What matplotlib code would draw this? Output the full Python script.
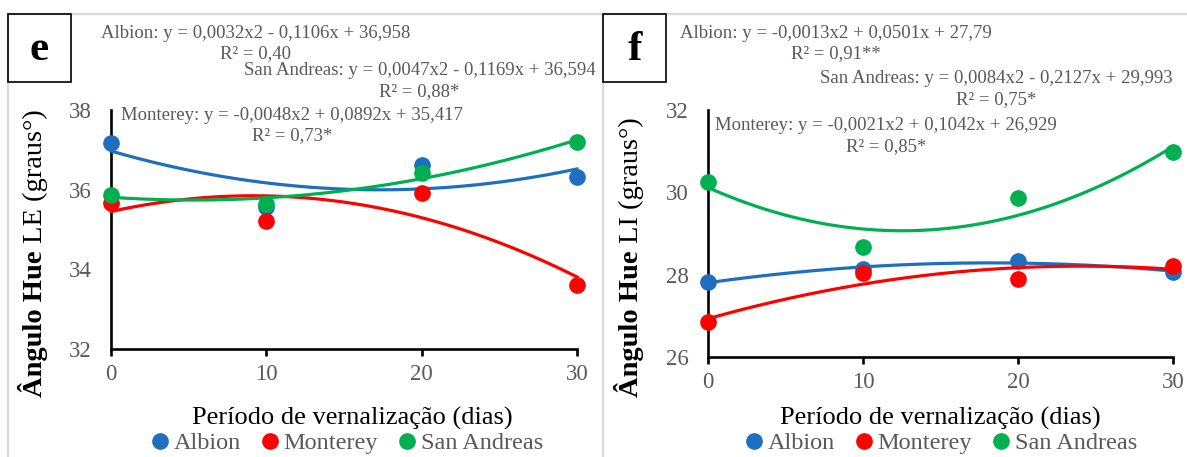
import numpy as np
import matplotlib
matplotlib.use("Agg")
import matplotlib.pyplot as plt
from matplotlib.lines import Line2D
from matplotlib.patches import Rectangle

plt.rcParams['font.family'] = ['Liberation Serif', 'DejaVu Serif']

W, H = 1187, 457

days = [0, 10, 20, 30]
cultivars = ['Albion', 'Monterey', 'San Andreas']
colors = ['#1F6FBF', '#FF0000', '#00B050']

# panel e - hue angle, LE
albion_le = [37.17, 35.57, 36.62, 36.32]
monterey_le = [35.66, 35.22, 35.92, 33.60]
sanandreas_le = [35.86, 35.64, 36.43, 37.20]
# printed trendline equations (a, b, c) for y = a*x^2 + b*x + c
albion_le_eq = [0.0032, -0.1106, 36.958]
monterey_le_eq = [-0.0048, 0.0892, 35.417]
sanandreas_le_eq = [0.0047, -0.1169, 36.594]
le_r2 = ['0,40', '0,73*', '0,88*']
le_yticks = [32, 34, 36, 38]

# panel f - hue angle, LI
albion_li = [27.82, 28.14, 28.33, 28.07]
monterey_li = [26.84, 28.04, 27.90, 28.22]
sanandreas_li = [30.26, 28.68, 29.87, 30.97]
albion_li_eq = [-0.0013, 0.0501, 27.79]
monterey_li_eq = [-0.0021, 0.1042, 26.929]
sanandreas_li_eq = [0.0084, -0.2127, 29.993]
li_r2 = ['0,91**', '0,85*', '0,75*']
li_yticks = [26, 28, 30, 32]

GRAY = '#595959'


def fx(px):
    return px / W


def fy(py):
    return 1 - py / H


def fmt(v, nd):
    s = ('%.' + str(nd) + 'f') % abs(v)
    return s.replace('.', ',')


def eqText(name, eq):
    a, b, c = eq
    ndc = len(str(c).split('.')[1]) if '.' in str(c) else 0
    sa = ('-' if a < 0 else '') + fmt(a, 4)
    sb = ('- ' if b < 0 else '+ ') + fmt(b, 4)
    sc = ('- ' if c < 0 else '+ ') + fmt(c, ndc)
    return '%s: y = %sx2 %sx %s' % (name, sa, sb, sc)


def drawPanel(fig, rect, series, yticks):
    ax = fig.add_axes(rect)
    xs = np.linspace(0, 30, 200)
    for vals, col in zip(series, colors):
        # 2nd order polynomial trendline through the means
        fit = np.polyfit(days, vals, 2)
        ax.plot(days, vals, 'o', color=col, markersize=11, clip_on=False, zorder=3)
        ax.plot(xs, np.polyval(fit, xs), '-', color=col, lw=2.3, clip_on=False, zorder=3)
    ax.set_xlim(0, 30)
    ax.set_ylim(yticks[0], yticks[-1])
    ax.set_xticks(days)
    ax.set_yticks(yticks)
    for s in ['top', 'right']:
        ax.spines[s].set_visible(False)
    for s in ['left', 'bottom']:
        ax.spines[s].set_linewidth(1.9)
    ax.tick_params(axis='x', direction='out', length=5, width=1.9, pad=6,
                   labelsize=16.5, labelcolor=GRAY)
    ax.tick_params(axis='y', length=0, pad=14, labelsize=16.5, labelcolor=GRAY)
    return ax


def yLabel(fig, px, py, boldTxt, restTxt):
    t1 = fig.text(fx(px), fy(py), boldTxt, rotation=90, rotation_mode='anchor',
                  ha='left', va='baseline', fontsize=20.5, fontweight='bold')
    r = fig.canvas.get_renderer()
    bb = t1.get_window_extent(r)
    fig.text(fx(px), bb.y1 / fig.bbox.height, restTxt, rotation=90,
             rotation_mode='anchor', ha='left', va='baseline', fontsize=20.5)


def eqLabel(fig, cx, py1, py2, name, eq, r2):
    fig.text(fx(cx), fy(py1), eqText(name, eq), ha='center', va='baseline',
             fontsize=13.5, color=GRAY)
    fig.text(fx(cx), fy(py2), 'R² = ' + r2, ha='center', va='baseline',
             fontsize=13.5, color=GRAY)


def panelFrame(fig, left, letter):
    fig.add_artist(Line2D([fx(left), fx(left)], [fy(14), 0], color='#D9D9D9', lw=1.6))
    fig.add_artist(Rectangle((fx(left), fy(82)), fx(63), 68 / H, fill=False,
                             edgecolor='black', lw=1.2, zorder=5))
    fig.text(fx(left + 31.5), fy(50), letter, ha='center', va='center',
             fontsize=31, fontweight='bold')


fig = plt.figure(figsize=(W / 100, H / 100), dpi=100, facecolor='white')
fig.add_artist(Line2D([fx(8), 1], [fy(14), fy(14)], color='#D9D9D9', lw=1.6))
panelFrame(fig, 8, 'e')
panelFrame(fig, 603, 'f')

drawPanel(fig, [fx(111), fy(349), fx(577 - 111), (349 - 110) / H],
          [albion_le, monterey_le, sanandreas_le], le_yticks)
drawPanel(fig, [fx(708), fy(357), fx(1173 - 708), (357 - 110) / H],
          [albion_li, monterey_li, sanandreas_li], li_yticks)

eqLabel(fig, 255.5, 38, 58, 'Albion', albion_le_eq, le_r2[0])
eqLabel(fig, 419.5, 75, 96.5, 'San Andreas', sanandreas_le_eq, le_r2[2])
eqLabel(fig, 292, 120.5, 140, 'Monterey', monterey_le_eq, le_r2[1])

eqLabel(fig, 835.5, 38, 58, 'Albion', albion_li_eq, li_r2[0])
eqLabel(fig, 996, 83, 104, 'San Andreas', sanandreas_li_eq, li_r2[2])
eqLabel(fig, 886, 130, 151.5, 'Monterey', monterey_li_eq, li_r2[1])

yLabel(fig, 42.5, 397, 'Ângulo Hue ', 'LE (graus°)')
yLabel(fig, 637.5, 397, 'Ângulo Hue ', 'LI (graus°)')

fig.text(fx(352), fy(425), 'Período de vernalização (dias)', ha='center',
         va='baseline', fontsize=19)
fig.text(fx(940), fy(425), 'Período de vernalização (dias)', ha='center',
         va='baseline', fontsize=19)

handles = [Line2D([], [], marker='o', ls='none', color=c, markersize=11) for c in colors]
for cx in [348, 942]:
    fig.legend(handles, cultivars, loc='center', bbox_to_anchor=(fx(cx), fy(443)),
               ncol=3, frameon=False, fontsize=17.5, labelcolor=GRAY,
               handlelength=0.6, handletextpad=0.25, columnspacing=0.9,
               borderpad=0, borderaxespad=0)

fig.savefig('out.png', dpi=100, facecolor='white')
